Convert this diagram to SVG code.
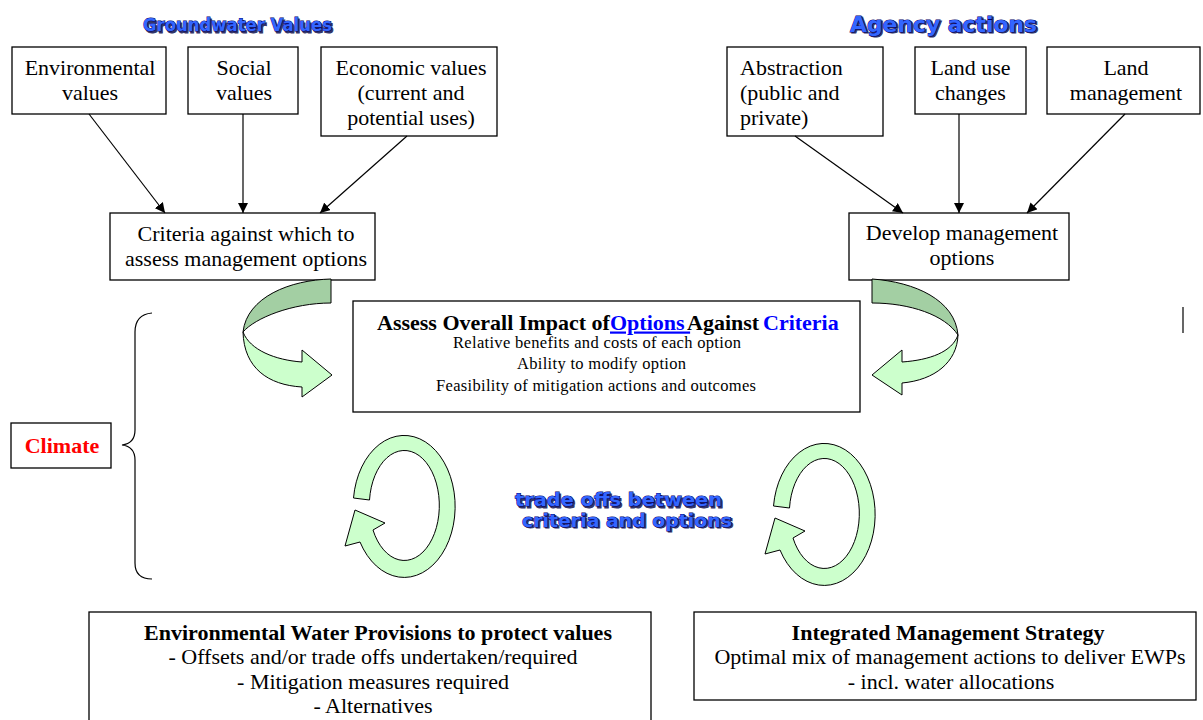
<svg xmlns="http://www.w3.org/2000/svg" width="1203" height="720" viewBox="0 0 1203 720">
<defs>
<marker id="ah" viewBox="0 0 10 10" refX="10" refY="5" markerWidth="10" markerHeight="10" markerUnits="userSpaceOnUse" orient="auto">
<path d="M0,0 L10,5 L0,10 Z" fill="#000"/>
</marker>
<style>
.box{fill:#fff;stroke:#000;stroke-width:1.3}
.t{font-family:"Liberation Serif","Times New Roman",serif;font-size:22px;fill:#000}
.c{text-anchor:middle}
.b{font-weight:bold}
.s{font-family:"Liberation Serif","Times New Roman",serif;font-size:16.5px;fill:#000;text-anchor:middle}
.conn{stroke:#000;stroke-width:1.2;fill:none;marker-end:url(#ah)}
.wa{font-family:"DejaVu Sans","Liberation Sans",sans-serif;font-weight:bold;fill:#3366ff;stroke:#000066;stroke-width:1;paint-order:stroke}
.sh{font-family:"DejaVu Sans","Liberation Sans",sans-serif;font-weight:bold;fill:#333366;stroke:#333366;stroke-width:1}
.dk{fill:#a3cfa3;stroke:#000;stroke-width:1}
.lt{fill:#ccffcc;stroke:#000;stroke-width:1}
</style>
</defs>
<rect width="1203" height="720" fill="#fff"/>

<g id="title-groundwater">
<text class="sh" x="239" y="32.5" font-size="17" text-anchor="middle" textLength="189" lengthAdjust="spacingAndGlyphs">Groundwater Values</text>
<text class="wa" x="237.5" y="31" font-size="17" text-anchor="middle" textLength="189" lengthAdjust="spacingAndGlyphs">Groundwater Values</text>
</g>
<g id="title-agency">
<text class="sh" x="945" y="33" font-size="21" text-anchor="middle" textLength="187" lengthAdjust="spacingAndGlyphs">Agency actions</text>
<text class="wa" x="943.5" y="31.5" font-size="21" text-anchor="middle" textLength="187" lengthAdjust="spacingAndGlyphs">Agency actions</text>
</g>

<g id="n-env"><rect class="box" x="12" y="47" width="154" height="67"/>
<text class="t c" x="90" y="75">Environmental</text><text class="t c" x="90" y="100">values</text></g>
<g id="n-social"><rect class="box" x="188" y="47" width="110" height="67"/>
<text class="t c" x="244" y="75">Social</text><text class="t c" x="244" y="100">values</text></g>
<g id="n-econ"><rect class="box" x="321" y="47" width="176" height="89"/>
<text class="t c" x="411" y="75">Economic values</text><text class="t c" x="411" y="100">(current and</text><text class="t c" x="411" y="125">potential uses)</text></g>
<g id="n-criteria"><rect class="box" x="110" y="213" width="265" height="67"/>
<text class="t c" x="246" y="241">Criteria against which to</text><text class="t c" x="246" y="266">assess management options</text></g>

<g id="n-abstraction"><rect class="box" x="727" y="47" width="156" height="89"/>
<text class="t" x="740" y="75">Abstraction</text><text class="t" x="740" y="100">(public and</text><text class="t" x="740" y="125">private)</text></g>
<g id="n-landuse"><rect class="box" x="915" y="47" width="111" height="67"/>
<text class="t c" x="970.5" y="75">Land use</text><text class="t c" x="970.5" y="100">changes</text></g>
<g id="n-landmgmt"><rect class="box" x="1047" y="47" width="153" height="67"/>
<text class="t c" x="1126" y="75">Land</text><text class="t c" x="1126" y="100">management</text></g>
<g id="n-develop"><rect class="box" x="849" y="213" width="220" height="67"/>
<text class="t c" x="962" y="240">Develop management</text><text class="t c" x="962" y="265">options</text></g>

<g id="connectors">
<line class="conn" x1="89" y1="114" x2="165" y2="213"/>
<line class="conn" x1="243" y1="114" x2="243" y2="213"/>
<line class="conn" x1="407" y1="136" x2="320" y2="213"/>
<line class="conn" x1="795" y1="136" x2="903" y2="213"/>
<line class="conn" x1="959" y1="114" x2="959" y2="213"/>
<line class="conn" x1="1125" y1="114" x2="1027" y2="213"/>
</g>

<g id="bent-arrow-left">
<path class="dk" d="M331,279 C290,280 247,297 243,332 C255,318 292,303 331,303 Z"/>
<path class="lt" d="M243,332 C250,350 275,360 302,362 L302,350 L332,375 L302,397 L302,387 C268,385 244,368 243,332 Z"/>
</g>
<g id="bent-arrow-right">
<path class="dk" d="M872,279 C915,282 955,300 958,335 C945,315 910,303 872,303 Z"/>
<path class="lt" d="M958,335 C957,362 935,380 902,383 L902,395 L872,375 L902,350 L902,362 C930,360 952,352 958,335 Z"/>
</g>

<g id="n-assess"><rect class="box" x="353" y="301" width="507" height="111"/>
<text class="t b" y="329.5"><tspan x="377">Assess Overall Impact of</tspan><tspan x="610" fill="#0000ff" text-decoration="underline">Options </tspan><tspan x="687">Against</tspan><tspan x="763" fill="#0000ff">Criteria</tspan></text>
<text class="s" x="597" y="347.5" textLength="288">Relative benefits and costs of each option</text>
<text class="s" x="601.5" y="369" textLength="169">Ability to modify option</text>
<text class="s" x="596" y="390.5" textLength="320">Feasibility of mitigation actions and outcomes</text>
</g>

<g id="n-climate"><rect class="box" x="11" y="423" width="100" height="45"/>
<text class="t c b" x="62" y="453" style="fill:#ff0000">Climate</text></g>

<g id="brace">
<path d="M152,313 C141,314 135,320 135,332 L135,430 C135,439 130,444 122,445 C130,446 135,451 135,460 L135,563 C135,574 141,579 152,579" fill="none" stroke="#000" stroke-width="1.2"/>
</g>

<g id="cycle-left">
<path class="lt" d="M353.5,498 A51,71 0 1 1 360,542 L345,546 L355,510 L385,523 L373,530 A35,55 0 1 0 369.5,500 Z"/>
</g>
<g id="cycle-right" transform="translate(420,8)">
<path class="lt" d="M353.5,498 A51,71 0 1 1 360,542 L345,546 L355,510 L385,523 L373,530 A35,55 0 1 0 369.5,500 Z"/>
</g>

<g id="label-tradeoffs">
<text class="sh" x="620" y="507.5" font-size="17.5" text-anchor="middle" textLength="207" lengthAdjust="spacingAndGlyphs">trade offs between</text>
<text class="wa" x="618.5" y="506" font-size="17.5" text-anchor="middle" textLength="207" lengthAdjust="spacingAndGlyphs">trade offs between</text>
<text class="sh" x="628.5" y="528" font-size="17.5" text-anchor="middle" textLength="210" lengthAdjust="spacingAndGlyphs">criteria and options</text>
<text class="wa" x="627" y="526.5" font-size="17.5" text-anchor="middle" textLength="210" lengthAdjust="spacingAndGlyphs">criteria and options</text>
</g>

<line x1="1183" y1="307" x2="1183" y2="333" stroke="#000" stroke-width="1.2"/>

<g id="n-ewp"><rect class="box" x="89" y="612" width="562" height="120"/>
<text class="t c b" x="378" y="640">Environmental Water Provisions to protect values</text>
<text class="t c" x="373" y="664">- Offsets and/or trade offs undertaken/required</text>
<text class="t c" x="373" y="689">- Mitigation measures required</text>
<text class="t c" x="373" y="713">- Alternatives</text></g>

<g id="n-ims"><rect class="box" x="694" y="612" width="502" height="88"/>
<text class="t c b" x="948" y="640">Integrated Management Strategy</text>
<text class="t c" x="950" y="664">Optimal mix of management actions to deliver EWPs</text>
<text class="t c" x="951" y="689">- incl. water allocations</text></g>
</svg>
